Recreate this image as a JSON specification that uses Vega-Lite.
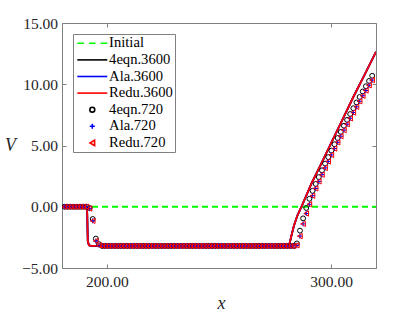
{
  "$schema": "https://vega.github.io/schema/vega-lite/v6.json",
  "width": 314,
  "height": 245,
  "autosize": {"type": "none"},
  "padding": {"left": 62, "top": 23, "right": 39, "bottom": 44},
  "background": "white",
  "config": {
    "view": {"stroke": "#808080", "strokeWidth": 1},
    "font": "Liberation Serif",
    "axis": {"domainColor": "#808080", "tickColor": "#808080", "labelFont": "Liberation Serif", "labelFontSize": 15.5, "labelColor": "#262626", "grid": false, "titleFont": "Liberation Serif", "titleFontSize": 18, "titleFontWeight": "normal", "titleFontStyle": "italic", "titleColor": "#262626"},
    "legend": {"orient": "top-left", "offset": 11, "strokeColor": "#808080", "fillColor": "white", "padding": 2, "labelFont": "Liberation Serif", "labelFontSize": 14.6, "labelColor": "#000000", "symbolStrokeWidth": 1.6, "rowPadding": 1.6, "labelOffset": 9.5, "symbolOffset": 10, "cornerRadius": 0}
  },
  "datasets": {
    "init": [{"s": "Initial", "x": 180, "v": 0}, {"s": "Initial", "x": 320, "v": 0}],
    "lines": [
      {"s":"4eqn.3600","x":180,"v":0},{"s":"4eqn.3600","x":190.8,"v":0},{"s":"4eqn.3600","x":191.2,"v":-0.3},{"s":"4eqn.3600","x":191.5,"v":-2.8},{"s":"4eqn.3600","x":192.0,"v":-3.15},{"s":"4eqn.3600","x":193.0,"v":-3.2},{"s":"4eqn.3600","x":281.0,"v":-3.2},{"s":"4eqn.3600","x":281.6,"v":-2.9},{"s":"4eqn.3600","x":282.5,"v":-2.2},{"s":"4eqn.3600","x":283.5,"v":-1.5},{"s":"4eqn.3600","x":285.0,"v":-0.7},{"s":"4eqn.3600","x":287.0,"v":0.1},{"s":"4eqn.3600","x":289.0,"v":0.95},{"s":"4eqn.3600","x":291.5,"v":2.0},{"s":"4eqn.3600","x":295.0,"v":3.3},{"s":"4eqn.3600","x":300.0,"v":5.2},{"s":"4eqn.3600","x":305.0,"v":7.1},{"s":"4eqn.3600","x":310.0,"v":9.0},{"s":"4eqn.3600","x":315.0,"v":10.8},{"s":"4eqn.3600","x":320.0,"v":12.65},
      {"s":"Ala.3600","x":180,"v":0},{"s":"Ala.3600","x":190.8,"v":0},{"s":"Ala.3600","x":191.2,"v":-0.3},{"s":"Ala.3600","x":191.5,"v":-2.8},{"s":"Ala.3600","x":192.0,"v":-3.15},{"s":"Ala.3600","x":193.0,"v":-3.2},{"s":"Ala.3600","x":281.0,"v":-3.2},{"s":"Ala.3600","x":281.6,"v":-2.9},{"s":"Ala.3600","x":282.5,"v":-2.2},{"s":"Ala.3600","x":283.5,"v":-1.5},{"s":"Ala.3600","x":285.0,"v":-0.7},{"s":"Ala.3600","x":287.0,"v":0.1},{"s":"Ala.3600","x":289.0,"v":0.95},{"s":"Ala.3600","x":291.5,"v":2.0},{"s":"Ala.3600","x":295.0,"v":3.3},{"s":"Ala.3600","x":300.0,"v":5.2},{"s":"Ala.3600","x":305.0,"v":7.1},{"s":"Ala.3600","x":310.0,"v":9.0},{"s":"Ala.3600","x":315.0,"v":10.8},{"s":"Ala.3600","x":320.0,"v":12.65},
      {"s":"Redu.3600","x":180,"v":0},{"s":"Redu.3600","x":190.8,"v":0},{"s":"Redu.3600","x":191.2,"v":-0.3},{"s":"Redu.3600","x":191.5,"v":-2.8},{"s":"Redu.3600","x":192.0,"v":-3.15},{"s":"Redu.3600","x":193.0,"v":-3.2},{"s":"Redu.3600","x":281.0,"v":-3.2},{"s":"Redu.3600","x":281.6,"v":-2.9},{"s":"Redu.3600","x":282.5,"v":-2.2},{"s":"Redu.3600","x":283.5,"v":-1.5},{"s":"Redu.3600","x":285.0,"v":-0.7},{"s":"Redu.3600","x":287.0,"v":0.1},{"s":"Redu.3600","x":289.0,"v":0.95},{"s":"Redu.3600","x":291.5,"v":2.0},{"s":"Redu.3600","x":295.0,"v":3.3},{"s":"Redu.3600","x":300.0,"v":5.2},{"s":"Redu.3600","x":305.0,"v":7.1},{"s":"Redu.3600","x":310.0,"v":9.0},{"s":"Redu.3600","x":315.0,"v":10.8},{"s":"Redu.3600","x":320.0,"v":12.65}
    ],
    "pts": [
      {"s":"4eqn.720","x":181.1,"v":0},{"s":"4eqn.720","x":182.5,"v":0},{"s":"4eqn.720","x":183.9,"v":0},{"s":"4eqn.720","x":185.3,"v":0},{"s":"4eqn.720","x":186.7,"v":0},{"s":"4eqn.720","x":188.1,"v":0},{"s":"4eqn.720","x":189.5,"v":0},{"s":"4eqn.720","x":190.9,"v":0},{"s":"4eqn.720","x":192.3,"v":-0.1},{"s":"4eqn.720","x":193.7,"v":-1.0},{"s":"4eqn.720","x":195.1,"v":-2.6},{"s":"4eqn.720","x":196.5,"v":-3.05},
      {"s":"4eqn.720","x":197.9,"v":-3.2},{"s":"4eqn.720","x":199.3,"v":-3.2},{"s":"4eqn.720","x":200.7,"v":-3.2},{"s":"4eqn.720","x":202.1,"v":-3.2},{"s":"4eqn.720","x":203.5,"v":-3.2},{"s":"4eqn.720","x":204.9,"v":-3.2},{"s":"4eqn.720","x":206.3,"v":-3.2},{"s":"4eqn.720","x":207.7,"v":-3.2},{"s":"4eqn.720","x":209.1,"v":-3.2},{"s":"4eqn.720","x":210.5,"v":-3.2},{"s":"4eqn.720","x":211.9,"v":-3.2},{"s":"4eqn.720","x":213.3,"v":-3.2},{"s":"4eqn.720","x":214.7,"v":-3.2},{"s":"4eqn.720","x":216.1,"v":-3.2},{"s":"4eqn.720","x":217.5,"v":-3.2},{"s":"4eqn.720","x":218.9,"v":-3.2},{"s":"4eqn.720","x":220.3,"v":-3.2},{"s":"4eqn.720","x":221.7,"v":-3.2},{"s":"4eqn.720","x":223.1,"v":-3.2},{"s":"4eqn.720","x":224.5,"v":-3.2},{"s":"4eqn.720","x":225.9,"v":-3.2},{"s":"4eqn.720","x":227.3,"v":-3.2},{"s":"4eqn.720","x":228.7,"v":-3.2},{"s":"4eqn.720","x":230.1,"v":-3.2},{"s":"4eqn.720","x":231.5,"v":-3.2},{"s":"4eqn.720","x":232.9,"v":-3.2},{"s":"4eqn.720","x":234.3,"v":-3.2},{"s":"4eqn.720","x":235.7,"v":-3.2},{"s":"4eqn.720","x":237.1,"v":-3.2},{"s":"4eqn.720","x":238.5,"v":-3.2},{"s":"4eqn.720","x":239.9,"v":-3.2},{"s":"4eqn.720","x":241.3,"v":-3.2},{"s":"4eqn.720","x":242.7,"v":-3.2},{"s":"4eqn.720","x":244.1,"v":-3.2},{"s":"4eqn.720","x":245.5,"v":-3.2},{"s":"4eqn.720","x":246.9,"v":-3.2},{"s":"4eqn.720","x":248.3,"v":-3.2},{"s":"4eqn.720","x":249.7,"v":-3.2},{"s":"4eqn.720","x":251.1,"v":-3.2},{"s":"4eqn.720","x":252.5,"v":-3.2},{"s":"4eqn.720","x":253.9,"v":-3.2},{"s":"4eqn.720","x":255.3,"v":-3.2},{"s":"4eqn.720","x":256.7,"v":-3.2},{"s":"4eqn.720","x":258.1,"v":-3.2},{"s":"4eqn.720","x":259.5,"v":-3.2},{"s":"4eqn.720","x":260.9,"v":-3.2},{"s":"4eqn.720","x":262.3,"v":-3.2},{"s":"4eqn.720","x":263.7,"v":-3.2},{"s":"4eqn.720","x":265.1,"v":-3.2},{"s":"4eqn.720","x":266.5,"v":-3.2},{"s":"4eqn.720","x":267.9,"v":-3.2},{"s":"4eqn.720","x":269.3,"v":-3.2},{"s":"4eqn.720","x":270.7,"v":-3.2},{"s":"4eqn.720","x":272.1,"v":-3.2},{"s":"4eqn.720","x":273.5,"v":-3.2},{"s":"4eqn.720","x":274.9,"v":-3.2},{"s":"4eqn.720","x":276.3,"v":-3.2},{"s":"4eqn.720","x":277.7,"v":-3.2},{"s":"4eqn.720","x":279.1,"v":-3.2},{"s":"4eqn.720","x":280.5,"v":-3.2},{"s":"4eqn.720","x":281.9,"v":-3.2},{"s":"4eqn.720","x":283.3,"v":-3.2},
      {"s":"4eqn.720","x":284.7,"v":-3.0},{"s":"4eqn.720","x":286.1,"v":-1.95},{"s":"4eqn.720","x":287.5,"v":-0.95},{"s":"4eqn.720","x":288.9,"v":-0.1},{"s":"4eqn.720","x":290.3,"v":0.65},{"s":"4eqn.720","x":291.7,"v":1.3},{"s":"4eqn.720","x":293.1,"v":1.86},{"s":"4eqn.720","x":294.5,"v":2.42},{"s":"4eqn.720","x":295.9,"v":2.97},{"s":"4eqn.720","x":297.3,"v":3.52},{"s":"4eqn.720","x":298.7,"v":4.05},{"s":"4eqn.720","x":300.1,"v":4.58},{"s":"4eqn.720","x":301.5,"v":5.1},{"s":"4eqn.720","x":302.9,"v":5.61},{"s":"4eqn.720","x":304.3,"v":6.11},{"s":"4eqn.720","x":305.7,"v":6.61},{"s":"4eqn.720","x":307.1,"v":7.09},{"s":"4eqn.720","x":308.5,"v":7.57},{"s":"4eqn.720","x":309.9,"v":8.04},{"s":"4eqn.720","x":311.3,"v":8.51},{"s":"4eqn.720","x":312.7,"v":8.96},{"s":"4eqn.720","x":314.1,"v":9.41},{"s":"4eqn.720","x":315.5,"v":9.84},{"s":"4eqn.720","x":316.9,"v":10.27},{"s":"4eqn.720","x":318.3,"v":10.69},
      {"s":"Ala.720","x":181.1,"v":0},{"s":"Ala.720","x":182.5,"v":0},{"s":"Ala.720","x":183.9,"v":0},{"s":"Ala.720","x":185.3,"v":0},{"s":"Ala.720","x":186.7,"v":0},{"s":"Ala.720","x":188.1,"v":0},{"s":"Ala.720","x":189.5,"v":0},{"s":"Ala.720","x":190.9,"v":0},{"s":"Ala.720","x":192.3,"v":-0.15},{"s":"Ala.720","x":193.7,"v":-1.15},{"s":"Ala.720","x":195.1,"v":-2.8},{"s":"Ala.720","x":196.5,"v":-3.15},
      {"s":"Ala.720","x":197.9,"v":-3.2},{"s":"Ala.720","x":199.3,"v":-3.2},{"s":"Ala.720","x":200.7,"v":-3.2},{"s":"Ala.720","x":202.1,"v":-3.2},{"s":"Ala.720","x":203.5,"v":-3.2},{"s":"Ala.720","x":204.9,"v":-3.2},{"s":"Ala.720","x":206.3,"v":-3.2},{"s":"Ala.720","x":207.7,"v":-3.2},{"s":"Ala.720","x":209.1,"v":-3.2},{"s":"Ala.720","x":210.5,"v":-3.2},{"s":"Ala.720","x":211.9,"v":-3.2},{"s":"Ala.720","x":213.3,"v":-3.2},{"s":"Ala.720","x":214.7,"v":-3.2},{"s":"Ala.720","x":216.1,"v":-3.2},{"s":"Ala.720","x":217.5,"v":-3.2},{"s":"Ala.720","x":218.9,"v":-3.2},{"s":"Ala.720","x":220.3,"v":-3.2},{"s":"Ala.720","x":221.7,"v":-3.2},{"s":"Ala.720","x":223.1,"v":-3.2},{"s":"Ala.720","x":224.5,"v":-3.2},{"s":"Ala.720","x":225.9,"v":-3.2},{"s":"Ala.720","x":227.3,"v":-3.2},{"s":"Ala.720","x":228.7,"v":-3.2},{"s":"Ala.720","x":230.1,"v":-3.2},{"s":"Ala.720","x":231.5,"v":-3.2},{"s":"Ala.720","x":232.9,"v":-3.2},{"s":"Ala.720","x":234.3,"v":-3.2},{"s":"Ala.720","x":235.7,"v":-3.2},{"s":"Ala.720","x":237.1,"v":-3.2},{"s":"Ala.720","x":238.5,"v":-3.2},{"s":"Ala.720","x":239.9,"v":-3.2},{"s":"Ala.720","x":241.3,"v":-3.2},{"s":"Ala.720","x":242.7,"v":-3.2},{"s":"Ala.720","x":244.1,"v":-3.2},{"s":"Ala.720","x":245.5,"v":-3.2},{"s":"Ala.720","x":246.9,"v":-3.2},{"s":"Ala.720","x":248.3,"v":-3.2},{"s":"Ala.720","x":249.7,"v":-3.2},{"s":"Ala.720","x":251.1,"v":-3.2},{"s":"Ala.720","x":252.5,"v":-3.2},{"s":"Ala.720","x":253.9,"v":-3.2},{"s":"Ala.720","x":255.3,"v":-3.2},{"s":"Ala.720","x":256.7,"v":-3.2},{"s":"Ala.720","x":258.1,"v":-3.2},{"s":"Ala.720","x":259.5,"v":-3.2},{"s":"Ala.720","x":260.9,"v":-3.2},{"s":"Ala.720","x":262.3,"v":-3.2},{"s":"Ala.720","x":263.7,"v":-3.2},{"s":"Ala.720","x":265.1,"v":-3.2},{"s":"Ala.720","x":266.5,"v":-3.2},{"s":"Ala.720","x":267.9,"v":-3.2},{"s":"Ala.720","x":269.3,"v":-3.2},{"s":"Ala.720","x":270.7,"v":-3.2},{"s":"Ala.720","x":272.1,"v":-3.2},{"s":"Ala.720","x":273.5,"v":-3.2},{"s":"Ala.720","x":274.9,"v":-3.2},{"s":"Ala.720","x":276.3,"v":-3.2},{"s":"Ala.720","x":277.7,"v":-3.2},{"s":"Ala.720","x":279.1,"v":-3.2},{"s":"Ala.720","x":280.5,"v":-3.2},{"s":"Ala.720","x":281.9,"v":-3.2},{"s":"Ala.720","x":283.3,"v":-3.2},
      {"s":"Ala.720","x":284.7,"v":-3.15},{"s":"Ala.720","x":286.1,"v":-2.4},{"s":"Ala.720","x":287.5,"v":-1.4},{"s":"Ala.720","x":288.9,"v":-0.55},{"s":"Ala.720","x":290.3,"v":0.2},{"s":"Ala.720","x":291.7,"v":0.9},{"s":"Ala.720","x":293.1,"v":1.5},{"s":"Ala.720","x":294.5,"v":2.07},{"s":"Ala.720","x":295.9,"v":2.62},{"s":"Ala.720","x":297.3,"v":3.17},{"s":"Ala.720","x":298.7,"v":3.7},{"s":"Ala.720","x":300.1,"v":4.23},{"s":"Ala.720","x":301.5,"v":4.75},{"s":"Ala.720","x":302.9,"v":5.26},{"s":"Ala.720","x":304.3,"v":5.76},{"s":"Ala.720","x":305.7,"v":6.26},{"s":"Ala.720","x":307.1,"v":6.74},{"s":"Ala.720","x":308.5,"v":7.22},{"s":"Ala.720","x":309.9,"v":7.69},{"s":"Ala.720","x":311.3,"v":8.16},{"s":"Ala.720","x":312.7,"v":8.61},{"s":"Ala.720","x":314.1,"v":9.06},{"s":"Ala.720","x":315.5,"v":9.49},{"s":"Ala.720","x":316.9,"v":9.92},{"s":"Ala.720","x":318.3,"v":10.34},
      {"s":"Redu.720","x":181.1,"v":0},{"s":"Redu.720","x":182.5,"v":0},{"s":"Redu.720","x":183.9,"v":0},{"s":"Redu.720","x":185.3,"v":0},{"s":"Redu.720","x":186.7,"v":0},{"s":"Redu.720","x":188.1,"v":0},{"s":"Redu.720","x":189.5,"v":0},{"s":"Redu.720","x":190.9,"v":0},{"s":"Redu.720","x":192.3,"v":-0.15},{"s":"Redu.720","x":193.7,"v":-1.15},{"s":"Redu.720","x":195.1,"v":-2.8},{"s":"Redu.720","x":196.5,"v":-3.15},
      {"s":"Redu.720","x":197.9,"v":-3.2},{"s":"Redu.720","x":199.3,"v":-3.2},{"s":"Redu.720","x":200.7,"v":-3.2},{"s":"Redu.720","x":202.1,"v":-3.2},{"s":"Redu.720","x":203.5,"v":-3.2},{"s":"Redu.720","x":204.9,"v":-3.2},{"s":"Redu.720","x":206.3,"v":-3.2},{"s":"Redu.720","x":207.7,"v":-3.2},{"s":"Redu.720","x":209.1,"v":-3.2},{"s":"Redu.720","x":210.5,"v":-3.2},{"s":"Redu.720","x":211.9,"v":-3.2},{"s":"Redu.720","x":213.3,"v":-3.2},{"s":"Redu.720","x":214.7,"v":-3.2},{"s":"Redu.720","x":216.1,"v":-3.2},{"s":"Redu.720","x":217.5,"v":-3.2},{"s":"Redu.720","x":218.9,"v":-3.2},{"s":"Redu.720","x":220.3,"v":-3.2},{"s":"Redu.720","x":221.7,"v":-3.2},{"s":"Redu.720","x":223.1,"v":-3.2},{"s":"Redu.720","x":224.5,"v":-3.2},{"s":"Redu.720","x":225.9,"v":-3.2},{"s":"Redu.720","x":227.3,"v":-3.2},{"s":"Redu.720","x":228.7,"v":-3.2},{"s":"Redu.720","x":230.1,"v":-3.2},{"s":"Redu.720","x":231.5,"v":-3.2},{"s":"Redu.720","x":232.9,"v":-3.2},{"s":"Redu.720","x":234.3,"v":-3.2},{"s":"Redu.720","x":235.7,"v":-3.2},{"s":"Redu.720","x":237.1,"v":-3.2},{"s":"Redu.720","x":238.5,"v":-3.2},{"s":"Redu.720","x":239.9,"v":-3.2},{"s":"Redu.720","x":241.3,"v":-3.2},{"s":"Redu.720","x":242.7,"v":-3.2},{"s":"Redu.720","x":244.1,"v":-3.2},{"s":"Redu.720","x":245.5,"v":-3.2},{"s":"Redu.720","x":246.9,"v":-3.2},{"s":"Redu.720","x":248.3,"v":-3.2},{"s":"Redu.720","x":249.7,"v":-3.2},{"s":"Redu.720","x":251.1,"v":-3.2},{"s":"Redu.720","x":252.5,"v":-3.2},{"s":"Redu.720","x":253.9,"v":-3.2},{"s":"Redu.720","x":255.3,"v":-3.2},{"s":"Redu.720","x":256.7,"v":-3.2},{"s":"Redu.720","x":258.1,"v":-3.2},{"s":"Redu.720","x":259.5,"v":-3.2},{"s":"Redu.720","x":260.9,"v":-3.2},{"s":"Redu.720","x":262.3,"v":-3.2},{"s":"Redu.720","x":263.7,"v":-3.2},{"s":"Redu.720","x":265.1,"v":-3.2},{"s":"Redu.720","x":266.5,"v":-3.2},{"s":"Redu.720","x":267.9,"v":-3.2},{"s":"Redu.720","x":269.3,"v":-3.2},{"s":"Redu.720","x":270.7,"v":-3.2},{"s":"Redu.720","x":272.1,"v":-3.2},{"s":"Redu.720","x":273.5,"v":-3.2},{"s":"Redu.720","x":274.9,"v":-3.2},{"s":"Redu.720","x":276.3,"v":-3.2},{"s":"Redu.720","x":277.7,"v":-3.2},{"s":"Redu.720","x":279.1,"v":-3.2},{"s":"Redu.720","x":280.5,"v":-3.2},{"s":"Redu.720","x":281.9,"v":-3.2},{"s":"Redu.720","x":283.3,"v":-3.2},
      {"s":"Redu.720","x":284.7,"v":-3.15},{"s":"Redu.720","x":286.1,"v":-2.4},{"s":"Redu.720","x":287.5,"v":-1.4},{"s":"Redu.720","x":288.9,"v":-0.55},{"s":"Redu.720","x":290.3,"v":0.2},{"s":"Redu.720","x":291.7,"v":0.9},{"s":"Redu.720","x":293.1,"v":1.5},{"s":"Redu.720","x":294.5,"v":2.07},{"s":"Redu.720","x":295.9,"v":2.62},{"s":"Redu.720","x":297.3,"v":3.17},{"s":"Redu.720","x":298.7,"v":3.7},{"s":"Redu.720","x":300.1,"v":4.23},{"s":"Redu.720","x":301.5,"v":4.75},{"s":"Redu.720","x":302.9,"v":5.26},{"s":"Redu.720","x":304.3,"v":5.76},{"s":"Redu.720","x":305.7,"v":6.26},{"s":"Redu.720","x":307.1,"v":6.74},{"s":"Redu.720","x":308.5,"v":7.22},{"s":"Redu.720","x":309.9,"v":7.69},{"s":"Redu.720","x":311.3,"v":8.16},{"s":"Redu.720","x":312.7,"v":8.61},{"s":"Redu.720","x":314.1,"v":9.06},{"s":"Redu.720","x":315.5,"v":9.49},{"s":"Redu.720","x":316.9,"v":9.92},{"s":"Redu.720","x":318.3,"v":10.34}
    ]
  },
  "layer": [
    {
      "data": {"name": "init"},
      "mark": {"type": "line", "strokeDash": [6, 4], "strokeWidth": 2, "clip": true},
      "encoding": {
        "x": {"field": "x", "type": "quantitative", "scale": {"domain": [180, 320], "nice": false, "zero": false},
              "axis": {"orient": "bottom", "values": [200, 300], "format": ".2f", "tickSize": -4, "labelPadding": 10, "domain": false, "title": "x", "titleX": 159, "titleY": 40, "titleAlign": "center", "titleBaseline": "alphabetic"}},
        "y": {"field": "v", "type": "quantitative", "scale": {"domain": [-5, 15], "nice": false, "zero": false},
              "axis": {"orient": "left", "values": [-5, 0, 5, 10, 15], "format": ".2f", "tickSize": -4, "labelPadding": 8.5, "domain": false, "title": "V", "titleAngle": 0, "titleX": -52, "titleY": 127, "titleAlign": "center", "titleBaseline": "alphabetic"}},
        "color": {"field": "s", "type": "ordinal", "title": null,
                  "scale": {"domain": ["Initial", "4eqn.3600", "Ala.3600", "Redu.3600", "4eqn.720", "Ala.720", "Redu.720"], "range": ["#00ff00", "#000000", "#0000ff", "#ff0000", "#000000", "#0000ff", "#ff0000"]}}
      }
    },
    {
      "data": {"name": "lines"},
      "mark": {"type": "line", "strokeWidth": 1.8, "clip": true},
      "encoding": {
        "x": {"field": "x", "type": "quantitative",
              "axis": {"orient": "top", "values": [200, 300], "labels": false, "tickSize": -4, "domain": false, "title": null}},
        "y": {"field": "v", "type": "quantitative",
              "axis": {"orient": "right", "values": [-5, 0, 5, 10, 15], "labels": false, "tickSize": -4, "domain": false, "title": null}},
        "color": {"field": "s", "type": "ordinal", "title": null}
      }
    },
    {
      "data": {"name": "pts"},
      "mark": {"type": "point", "filled": false, "strokeWidth": 1, "clip": true, "opacity": 1},
      "encoding": {
        "x": {"field": "x", "type": "quantitative", "axis": null},
        "y": {"field": "v", "type": "quantitative", "axis": null},
        "color": {"field": "s", "type": "ordinal", "title": null},
        "shape": {"field": "s", "type": "ordinal", "title": null,
                  "scale": {"domain": ["Initial", "4eqn.3600", "Ala.3600", "Redu.3600", "4eqn.720", "Ala.720", "Redu.720"], "range": ["M-3,0H-1.667M-0.667,0H0.667M1.667,0H3", "M-3,0H3", "M-3,0H3", "M-3,0H3", "circle", "M-1,0H1M0,-1V1", "triangle-left"]}},
        "size": {"field": "s", "type": "ordinal", "title": null,
                 "scale": {"type": "ordinal", "domain": ["Initial", "4eqn.3600", "Ala.3600", "Redu.3600", "4eqn.720", "Ala.720", "Redu.720"], "range": [100, 100, 100, 100, 24, 26, 28]}}
      }
    }
  ],
  "resolve": {"axis": {"x": "independent", "y": "independent"}}
}
